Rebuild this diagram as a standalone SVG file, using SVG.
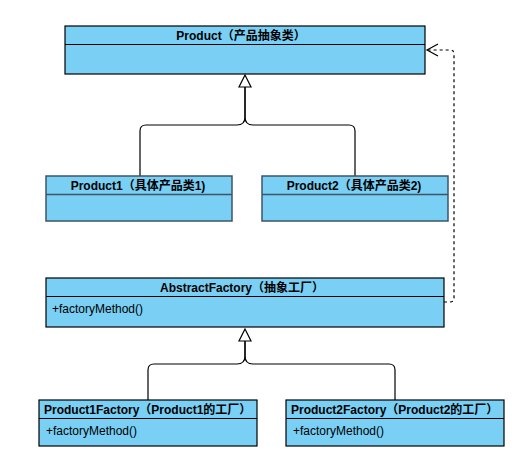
<svg xmlns="http://www.w3.org/2000/svg" width="530" height="472" viewBox="0 0 530 472">
<style>
.box{fill:#79CFF4;stroke:#000;stroke-width:1.2}
.box2{fill:#79CFF4;stroke:#3d5566;stroke-width:1.5}
.hd{font-family:"Liberation Sans","Noto Sans CJK SC",sans-serif;font-size:12px;font-weight:bold;fill:#000}
.op{font-family:"Liberation Sans","Noto Sans CJK SC",sans-serif;font-size:12px;fill:#000}
.edge{fill:none;stroke:#000;stroke-width:1.2}
.dash{fill:none;stroke:#000;stroke-width:1.2;stroke-dasharray:3 3}
.tri{fill:#fff;stroke:#000;stroke-width:1.2}
</style>
<rect width="530" height="472" fill="#fff"/>
<g id="connectors">
<path class="edge" d="M140,176 V131 Q140,125 146,125 H237 Q245,125 245,117 V87"/>
<path class="edge" d="M355,176 V131 Q355,125 349,125 H253 Q245,125 245,117 V87"/>
<polygon class="tri" points="245,75 239,87 251,87"/>
<path class="edge" d="M148,400 V370 Q148,364 154,364 H237 Q245,364 245,356 V341"/>
<path class="edge" d="M395,400 V370 Q395,364 389,364 H253 Q245,364 245,356 V341"/>
<polygon class="tri" points="245,329 239,341 251,341"/>
<path class="dash" d="M444,302 H450 Q454,302 454,298 V54 Q454,50 450,50 H427"/>
<path class="edge" d="M438,44 L427,50 L438,56"/>
</g>
<g id="product">
<rect class="box" x="65" y="26" width="360" height="48"/>
<line x1="65" y1="44.5" x2="425" y2="44.5" stroke="#000" stroke-width="1.2"/>
<text class="hd" x="241" y="39.5" text-anchor="middle">Product（产品抽象类）</text>
</g>
<g id="product1">
<rect class="box2" x="46" y="176" width="186" height="45"/>
<line x1="46" y1="194.5" x2="232" y2="194.5" stroke="#3d5566" stroke-width="1.5"/>
<text class="hd" x="138" y="189.5" text-anchor="middle">Product1（具体产品类1)</text>
</g>
<g id="product2">
<rect class="box2" x="262" y="176" width="186" height="45"/>
<line x1="262" y1="194.5" x2="448" y2="194.5" stroke="#3d5566" stroke-width="1.5"/>
<text class="hd" x="354" y="189.5" text-anchor="middle">Product2（具体产品类2)</text>
</g>
<g id="abstractFactory">
<rect class="box" x="46" y="278" width="398" height="49"/>
<line x1="46" y1="296.5" x2="444" y2="296.5" stroke="#000" stroke-width="1.2"/>
<text class="hd" x="242" y="291.5" text-anchor="middle">AbstractFactory（抽象工厂）</text>
<text class="op" x="52" y="313">+factoryMethod()</text>
</g>
<g id="product1Factory">
<rect class="box" x="39" y="400" width="218" height="46"/>
<line x1="39" y1="418.5" x2="257" y2="418.5" stroke="#000" stroke-width="1.2"/>
<text class="hd" x="44" y="413.5">Product1Factory（Product1的工厂）</text>
<text class="op" x="46" y="434.5">+factoryMethod()</text>
</g>
<g id="product2Factory">
<rect class="box" x="286" y="400" width="218" height="46"/>
<line x1="286" y1="418.5" x2="504" y2="418.5" stroke="#000" stroke-width="1.2"/>
<text class="hd" x="291" y="413.5">Product2Factory（Product2的工厂）</text>
<text class="op" x="293" y="434.5">+factoryMethod()</text>
</g>
</svg>
